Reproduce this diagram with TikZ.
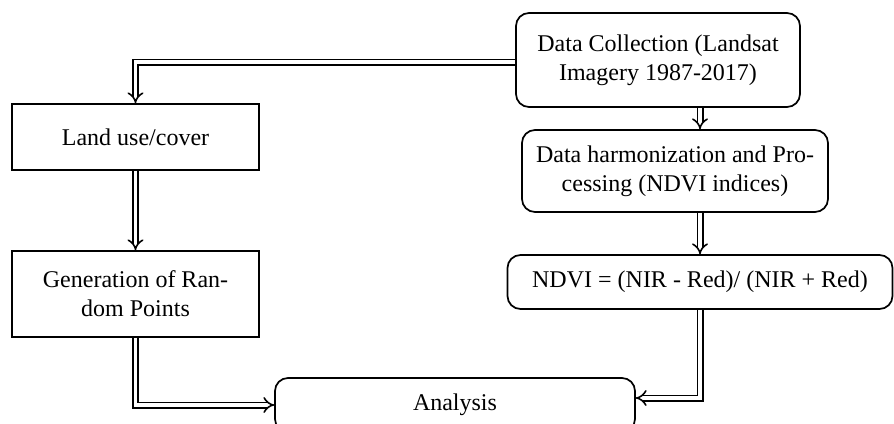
\documentclass[tikz,border=0pt]{standalone}
\usepackage{fontspec}
\setmainfont{Liberation Serif}
\usetikzlibrary{arrows.meta,calc}
\begin{document}
\begin{tikzpicture}[x=1pt,y=1pt,
  box/.style={draw=black,line width=1.7pt,align=center,inner sep=0pt,
    font=\fontsize{24}{29}\selectfont},
  rbox/.style={box,rounded corners=13pt},
  dbl/.style={draw=black,line width=1.6pt,double=white,double distance=3.8pt,
    -{Implies[length=6pt,width=12pt]}}]
\useasboundingbox (0,0) rectangle (894,-423);
\begin{scope}
\clip (0,0) rectangle (894,-423);
\node[rbox,minimum width=284pt,minimum height=94pt] (dc) at (658,-60) {Data Collection (Landsat\\Imagery 1987-2017)};
\node[rbox,minimum width=306pt,minimum height=82pt] (dh) at (675,-171) {Data harmonization and Pro-\\cessing (NDVI indices)};
\node[rbox,minimum width=385pt,minimum height=54pt] (nd) at (700,-282) {NDVI = (NIR - Red)/ (NIR + Red)};
\node[rbox,minimum width=360pt,minimum height=54pt] (an) at (455,-405) {Analysis};
\node[box,minimum width=247pt,minimum height=66pt] (lu) at (135.5,-137) {Land use/cover};
\node[box,minimum width=247pt,minimum height=86pt] (gr) at (135.5,-294) {Generation of Ran-\\dom Points};
\draw[dbl] ([yshift=-2pt]dc.west) -| (lu.north);
\draw[dbl] (dc.south -| nd.north) -- (dh.north -| nd.north);
\draw[dbl] (dh.south -| nd.north) -- (nd.north);
\draw[dbl] (lu.south) -- (gr.north);
\draw[dbl] (gr.south) |- (an.west);
\draw[dbl] (nd.south) |- ([yshift=7pt]an.east);
\end{scope}
\end{tikzpicture}
\end{document}
